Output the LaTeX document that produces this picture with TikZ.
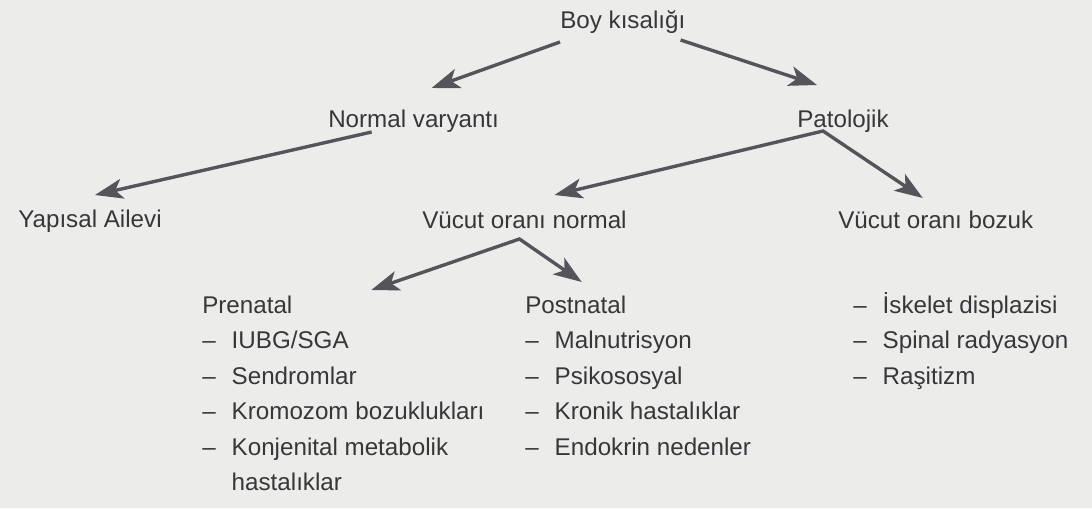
\documentclass[tikz,border=0pt]{standalone}
\usepackage{fontspec}
\setmainfont{Liberation Sans}
\usetikzlibrary{arrows.meta,calc}
\definecolor{paper}{RGB}{236,236,235}
\definecolor{ink}{RGB}{55,55,58}
\definecolor{arrowgray}{RGB}{84,84,90}

\begin{document}
\begin{tikzpicture}[x=0.025cm, y=-0.025cm,
  lbl/.style={anchor=base west, inner sep=0pt, text=ink, font=\fontsize{17.2}{25.25}\selectfont},
  tip/.tip={Stealth[length=0.7cm, width=0.5cm, inset=0.18cm]},
  arr/.style={draw=arrowgray, line width=2.4pt, -tip},
  fork/.style={draw=arrowgray, line width=2.4pt, tip-tip}]
\fill[paper] (0,0) rectangle (1092,508);
\useasboundingbox (0,0) rectangle (1092,508);

\node[lbl] (boy)       at (560,28)  {Boy kısalığı};
\node[lbl] (normal)    at (328,127) {Normal varyantı};
\node[lbl] (patolojik) at (797,127) {Patolojik};
\node[lbl] (yapisal)   at (18,227)  {Yapısal Ailevi};
\node[lbl] (vonormal)  at (422,228) {Vücut oranı normal};
\node[lbl] (vobozuk)   at (838,228) {Vücut oranı bozuk};
\node[lbl] (prenatal)  at (202,313) {Prenatal};
\node[lbl] (postnatal) at (525,313) {Postnatal};

\node[lbl] (prelist) at (202,348.5) {\begin{tabular}[t]{@{}l@{\hspace{0.4cm}}l@{}}
  – & IUBG/SGA\\ – & Sendromlar\\ – & Kromozom bozuklukları\\
  – & Konjenital metabolik\\ & hastalıklar\end{tabular}};
\node[lbl] (postlist) at (525,348.5) {\begin{tabular}[t]{@{}l@{\hspace{0.4cm}}l@{}}
  – & Malnutrisyon\\ – & Psikososyal\\ – & Kronik hastalıklar\\
  – & Endokrin nedenler\end{tabular}};
\node[lbl] (bozuklist) at (853,313) {\begin{tabular}[t]{@{}l@{\hspace{0.4cm}}l@{}}
  – & İskelet displazisi\\ – & Spinal radyasyon\\ – & Raşitizm\end{tabular}};

\coordinate (patfork) at ($(patolojik.base)+(-20,4)$);
\coordinate (vonfork) at ($(vonormal.base)+(-5,11)$);

\draw[arr] ($(boy.base west)+(0,14)$) -- ($(normal.base)+(18,-39)$);
\draw[arr] ($(boy.base east)+(-5,12)$) -- ($(patolojik.base)+(-26,-42)$);
\draw[arr] ($(normal.base)+(-42,5)$) -- ($(yapisal.base)+(5,-32)$);
\draw[fork] ($(vonormal.base)+(30,-33)$) -- (patfork) -- ($(vobozuk.base)+(-13,-30)$);
\draw[fork] ($(prenatal.base)+(124,-23)$) -- (vonfork) -- ($(postnatal.base)+(6,-31)$);
\end{tikzpicture}
\end{document}
